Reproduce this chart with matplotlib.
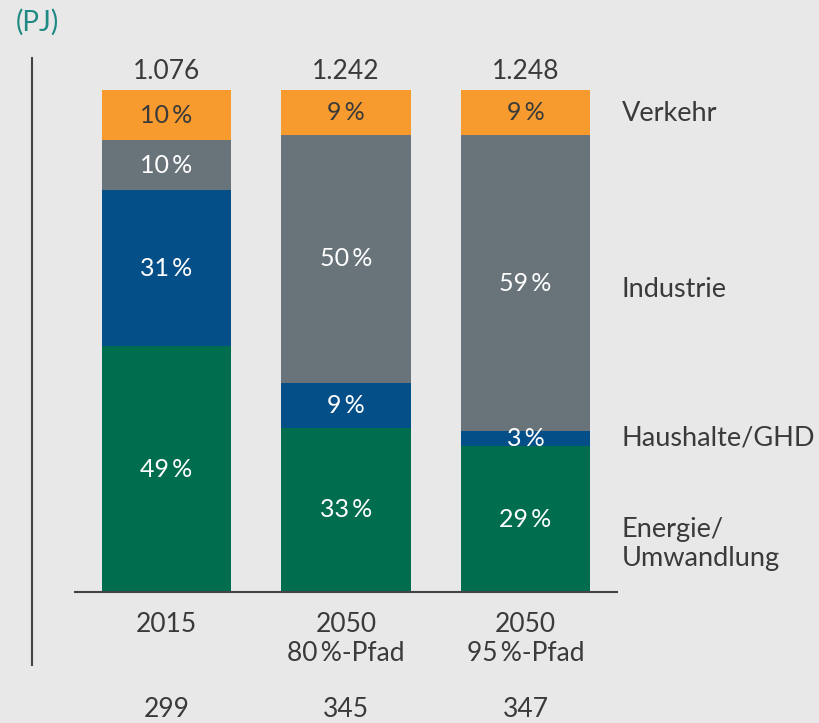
import matplotlib.pyplot as plt
from matplotlib.lines import Line2D

# Daten
categories = ['2015', '2050\n80\u2009%-Pfad', '2050\n95\u2009%-Pfad']
totals = ['1.076', '1.242', '1.248']
bottom_values = ['299', '345', '347']
sectors = ['Energie/\nUmwandlung', 'Haushalte/GHD', 'Industrie', 'Verkehr']
shares = {
    'Energie/\nUmwandlung': [49, 33, 29],
    'Haushalte/GHD': [31, 9, 3],
    'Industrie': [10, 50, 59],
    'Verkehr': [10, 9, 9],
}
colors = ['#006d4e', '#054f88', '#69737a', '#f79b2e']
label_colors = ['white', 'white', 'white', '#3a3a3a']
sector_label_y = [9.6, 30.7, 60.2, 95.4]

bg = '#e8e8e8'
txt = '#3a3a3a'
plt.rcParams['font.family'] = ['Lato', 'DejaVu Sans']

fig = plt.figure(figsize=(8.2, 7.23), dpi=100, facecolor=bg)
ax = fig.add_axes([75 / 820, 131 / 723, 542 / 820, 502 / 723])
ax.set_facecolor(bg)

x = list(range(len(categories)))
sums = [sum(shares[s][i] for s in sectors) for i in x]
bottom = [0.0] * len(x)
for s, c, lc in zip(sectors, colors, label_colors):
    h = [v / t * 100 for v, t in zip(shares[s], sums)]
    ax.bar(x, h, bottom=bottom, width=0.72, color=c, linewidth=0)
    for i in x:
        ax.text(i, bottom[i] + h[i] / 2, f'{shares[s][i]}\u2009%', ha='center',
                va='center', color=lc, fontsize=18)
    bottom = [b + v for b, v in zip(bottom, h)]

# Summen oben und Werte unten
for i in x:
    ax.text(i, 103.6, totals[i], ha='center', va='center', color=txt, fontsize=19)
    ax.text(i, -4, categories[i], ha='center', va='top', color=txt, fontsize=19,
            linespacing=1.2)
    ax.text(i, -23.5, bottom_values[i], ha='center', va='center', color=txt,
            fontsize=19)

for s, y in zip(sectors, sector_label_y):
    ax.text(2.537, y, s, ha='left', va='center', color=txt, fontsize=19.5,
            linespacing=1.2)

ax.set_xlim(-0.51, 2.51)
ax.set_ylim(0, 100)
for sp in ['top', 'right', 'left']:
    ax.spines[sp].set_visible(False)
ax.spines['bottom'].set_color('#444444')
ax.spines['bottom'].set_linewidth(1.5)
ax.set_xticks([])
ax.set_yticks([])

fig.add_artist(Line2D([32 / 820, 32 / 820], [58 / 723, 665 / 723],
                      color='#444444', lw=1.5, transform=fig.transFigure))
fig.text(16 / 820, 1 - 22 / 723, '(PJ)', color='#1f8a84', fontsize=20,
         ha='left', va='center')

fig.savefig('out.png', dpi=100, facecolor=bg)
